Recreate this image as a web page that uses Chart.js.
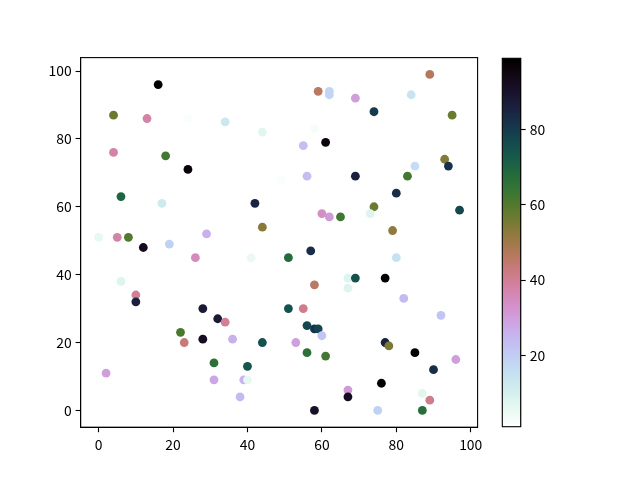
<!DOCTYPE html>
<html>
<head>
<meta charset="utf-8">
<script src="https://cdn.jsdelivr.net/npm/chart.js@4/dist/chart.umd.min.js"></script>
<style>
  html, body { margin: 0; padding: 0; background: #ffffff; }
  #wrap { position: relative; width: 640px; height: 480px; }
  canvas { position: absolute; left: 0; top: 0; }
</style>
</head>
<body>
<div id="wrap">
  <canvas id="main" width="640" height="480"></canvas>
  <canvas id="cbar" width="640" height="480"></canvas>
</div>
<script>
// ---- data ----
const xs = [16, 4, 13, 24, 34, 44, 5, 4, 18, 24, 49, 6, 17, 42, 44, 0, 5, 8, 29, 19, 12,
  89, 59, 62, 62, 69, 84, 74, 95, 58, 61, 55, 56, 69, 85, 93, 94, 83, 80, 74, 73, 97, 60, 62, 65, 79,
  26, 41, 6, 10, 10, 28, 32, 34, 22, 23, 28, 36, 44, 31, 40, 2, 31, 39, 40, 38,
  57, 51, 80, 67, 69, 77, 58, 67, 82, 92, 51, 55, 56, 58, 59, 60, 53, 77, 78, 56, 61, 85, 96, 90, 76, 67, 67, 87, 89, 58, 75, 87];
const ys = [96, 87, 86, 86, 85, 82, 80, 76, 75, 71, 68, 63, 61, 61, 54, 51, 51, 51, 52, 49, 48,
  99, 94, 94, 93, 92, 93, 88, 87, 83, 79, 78, 69, 69, 72, 74, 72, 69, 64, 60, 58, 59, 58, 57, 57, 53,
  45, 45, 38, 34, 32, 30, 27, 26, 23, 20, 21, 21, 20, 14, 13, 11, 9, 9, 9, 4,
  47, 45, 45, 39, 39, 39, 37, 36, 33, 28, 30, 30, 25, 24, 24, 22, 20, 20, 19, 17, 16, 17, 15, 12, 8, 6, 4, 5, 3, 0, 0, 0];
const cs = [99, 57, 38, 2, 13, 7, 1, 38, 62, 97, 2, 70, 12, 85, 53, 6, 38, 60, 26, 19, 93,
  47, 46, 18, 18, 30, 14, 80, 57, 3, 96, 23, 23, 86, 16, 54, 82, 62, 83, 57, 8, 77, 34, 31, 63, 52,
  35, 5, 8, 40, 86, 88, 88, 40, 61, 43, 92, 26, 75, 66, 74, 30, 28, 25, 6, 24,
  83, 68, 15, 8, 75, 98, 46, 8, 24, 22, 75, 41, 77, 82, 78, 22, 30, 86, 55, 66, 62, 98, 30, 83, 98, 31, 92, 7, 41, 91, 19, 67];
const xTicks = [0, 20, 40, 60, 80, 100];
const yTicks = [0, 20, 40, 60, 80, 100];
const cbTicks = [20, 40, 60, 80];

// ---- cubehelix_r colormap (matplotlib) ----
function cubehelix(x) {
  const s = 0.5, r = -1.5, h = 1.0;
  const a = h * x * (1 - x) / 2;
  const phi = 2 * Math.PI * (s / 3 + r * x);
  const c = Math.cos(phi), sn = Math.sin(phi);
  const cl = v => Math.max(0, Math.min(1, v));
  const R = cl(x + a * (-0.14861 * c + 1.78277 * sn));
  const G = cl(x + a * (-0.29227 * c - 0.90649 * sn));
  const B = cl(x + a * (1.97294 * c));
  return `rgb(${Math.round(R * 255)},${Math.round(G * 255)},${Math.round(B * 255)})`;
}
const cmapR = t => cubehelix(1 - Math.max(0, Math.min(1, t)));
const cmin = Math.min(...cs), cmax = Math.max(...cs);
const norm = v => (v - cmin) / (cmax - cmin);

const FONT = { family: "'Noto Sans CJK SC', 'Noto Sans', sans-serif", size: 13.9 };

const framePlugin = {
  id: 'frame',
  afterDraw(chart) {
    const { ctx, chartArea: a } = chart;
    ctx.save();
    ctx.strokeStyle = '#000';
    ctx.lineWidth = 1.1;
    ctx.strokeRect(a.left, a.top, a.right - a.left, a.bottom - a.top);
    ctx.restore();
  }
};

const axisCommon = (ticksArr, fitKey, fitVal) => ({
  type: 'linear',
  afterBuildTicks: s => { s.ticks = ticksArr.map(v => ({ value: v })); },
  afterFit: s => { s[fitKey] = fitVal; },
  grid: { display: true, drawOnChartArea: false, drawTicks: true, tickLength: 5, color: '#000', tickWidth: 1.1 },
  border: { display: true, color: '#000', width: 1.1 },
  ticks: { color: '#000', font: FONT, padding: 4, maxRotation: 0, autoSkip: false }
});

new Chart(document.getElementById('main'), {
  type: 'scatter',
  data: {
    datasets: [{
      data: xs.map((x, i) => ({ x: x, y: ys[i] })),
      backgroundColor: cs.map(c => cmapR(norm(c))),
      borderWidth: 0,
      pointRadius: 4.4,
      pointHoverRadius: 4.4
    }]
  },
  options: {
    responsive: false,
    animation: false,
    events: [],
    layout: { padding: { left: 0, top: 57.6, right: 162.4, bottom: 0 } },
    plugins: { legend: { display: false }, tooltip: { enabled: false } },
    scales: {
      x: Object.assign(axisCommon(xTicks, 'height', 52.8), { min: -4.85, max: 101.85 }),
      y: Object.assign(axisCommon(yTicks, 'width', 80.6), { min: -4.95, max: 103.95 })
    }
  },
  plugins: [framePlugin]
});

const gradPlugin = {
  id: 'grad',
  beforeDatasetsDraw(chart) {
    const { ctx, chartArea: a } = chart;
    const g = ctx.createLinearGradient(0, a.bottom, 0, a.top);
    for (let i = 0; i <= 64; i++) g.addColorStop(i / 64, cmapR(i / 64));
    ctx.save();
    ctx.fillStyle = g;
    ctx.fillRect(a.left, a.top, a.right - a.left, a.bottom - a.top);
    ctx.restore();
  }
};

new Chart(document.getElementById('cbar'), {
  type: 'scatter',
  data: { datasets: [{ data: [] }] },
  options: {
    responsive: false,
    animation: false,
    events: [],
    layout: { padding: { left: 502.3, top: 58.3, right: 79.3, bottom: 53.3 } },
    plugins: { legend: { display: false }, tooltip: { enabled: false } },
    scales: {
      x: { display: false, min: 0, max: 1 },
      y: Object.assign(axisCommon(cbTicks, 'width', 40), { position: 'right', min: cmin, max: cmax })
    }
  },
  plugins: [gradPlugin, framePlugin]
});
</script>
</body>
</html>
